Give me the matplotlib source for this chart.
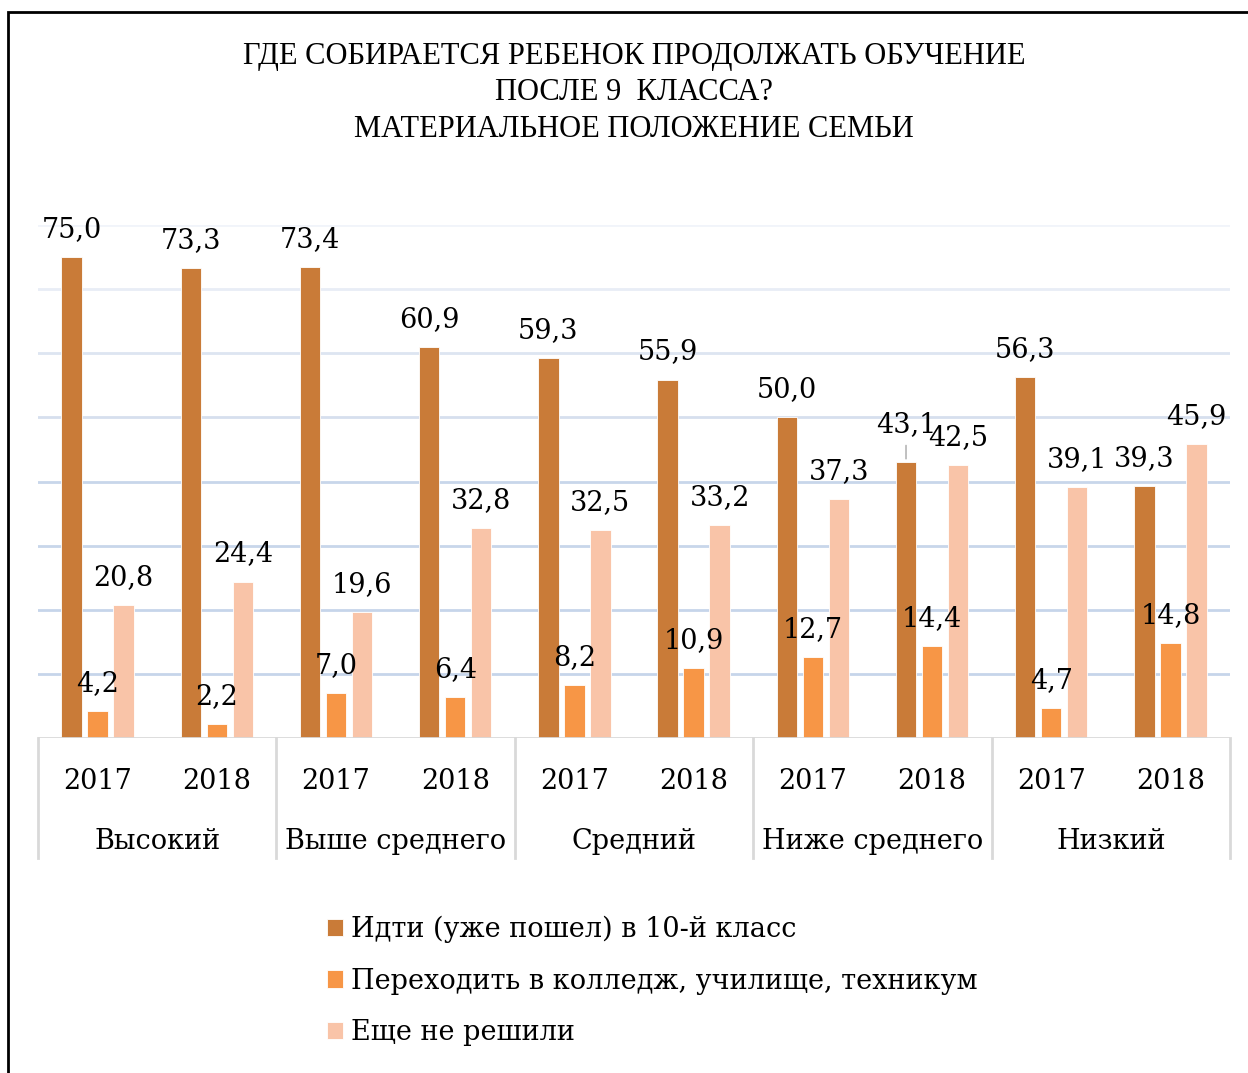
import matplotlib
matplotlib.use("Agg")
import matplotlib.pyplot as plt
import matplotlib.patches as patches
import numpy as np

plt.rcParams['font.family'] = ['DejaVu Serif']

groups = ["Высокий", "Выше среднего", "Средний", "Ниже среднего", "Низкий"]
years = ["2017", "2018"]
series_names = ["Идти (уже пошел) в 10-й класс",
                "Переходить в колледж, училище, техникум",
                "Еще не решили"]
school = [75.0, 73.3, 73.4, 60.9, 59.3, 55.9, 50.0, 43.1, 56.3, 39.3]
college = [4.2, 2.2, 7.0, 6.4, 8.2, 10.9, 12.7, 14.4, 4.7, 14.8]
undecided = [20.8, 24.4, 19.6, 32.8, 32.5, 33.2, 37.3, 42.5, 39.1, 45.9]

colors = ["#C97B38", "#F79646", "#F9C4A8"]
grid_cols = {10: "#c6d5ea", 20: "#c6d5ea", 30: "#c8d6ea", 40: "#c8d6ea",
             50: "#d6dfee", 60: "#dde5f1", 70: "#e8edf6", 80: "#f1f4fa"}

W, H = 1248, 1073
fig = plt.figure(figsize=(W / 100, H / 100), dpi=100)
ax = fig.add_axes([38 / W, 1 - 738 / H, (1230 - 38) / W, (738 - 225) / H])

n = len(school)
x = np.arange(n)
bw = 0.172
step = 0.218
fs = 19.5
px = 6.41  # pixels per unit on y

for k, vals in enumerate([school, college, undecided]):
    pos = x + (k - 1) * step
    ax.bar(pos, vals, bw, color=colors[k], edgecolor="white", linewidth=0.6,
           zorder=3, label=series_names[k])
    for p, v in zip(pos, vals):
        extra = 10 if (k == 0 and abs(v - 43.1) < 1e-9) else 0
        ax.annotate(f"{v:.1f}".replace(".", ","), (p, v),
                    xytext=(0, (20 + extra) * 0.72), textcoords="offset points",
                    ha="center", va="baseline", fontsize=fs, zorder=5)
        if extra:
            ax.annotate("", (p, v), xytext=(p, v + 19 / px),
                        arrowprops=dict(arrowstyle="-", color="#a6a6a6", lw=1))

for g, c in grid_cols.items():
    ax.axhline(g, color=c, lw=2, zorder=1)

ax.set_xlim(-0.5, n - 0.5)
ax.set_ylim(0, 80)
for s in ax.spines.values():
    s.set_visible(False)
ax.set_xticks([])
ax.set_yticks([])
ax.axhline(0, color="#d9d9d9", lw=2, zorder=4)

# category axis: years and groups
for i in range(n):
    ax.text(i, -43 / px, years[i % 2], ha="center", va="center",
            fontsize=fs, clip_on=False)
for gi, gname in enumerate(groups):
    ax.text(2 * gi + 0.5, -103 / px, gname, ha="center", va="center",
            fontsize=fs, clip_on=False)
for b in range(len(groups) + 1):
    ax.plot([2 * b - 0.5, 2 * b - 0.5], [0, -120 / px], color="#d9d9d9",
            lw=2, clip_on=False, zorder=4)

fig.text(634 / W, 1 - 93 / H,
         "ГДЕ СОБИРАЕТСЯ РЕБЕНОК ПРОДОЛЖАТЬ ОБУЧЕНИЕ\nПОСЛЕ 9  КЛАССА?\nМАТЕРИАЛЬНОЕ ПОЛОЖЕНИЕ СЕМЬИ",
         ha="center", va="center", fontsize=22, linespacing=1.35,
         family="Liberation Serif")

handles, labels = ax.get_legend_handles_labels()
fig.legend(handles, labels, loc="upper left", bbox_to_anchor=(316 / W, 1 - 905 / H),
           frameon=False, fontsize=fs, handlelength=0.6, handleheight=0.6,
           handletextpad=0.3, labelspacing=0.9, borderaxespad=0)

fig.patches.append(patches.Rectangle((8 / W, -0.2), 2.0, 1.2 - 12 / H,
                                     transform=fig.transFigure, fill=False,
                                     edgecolor="black", lw=2))

fig.savefig("out.png", dpi=100)
